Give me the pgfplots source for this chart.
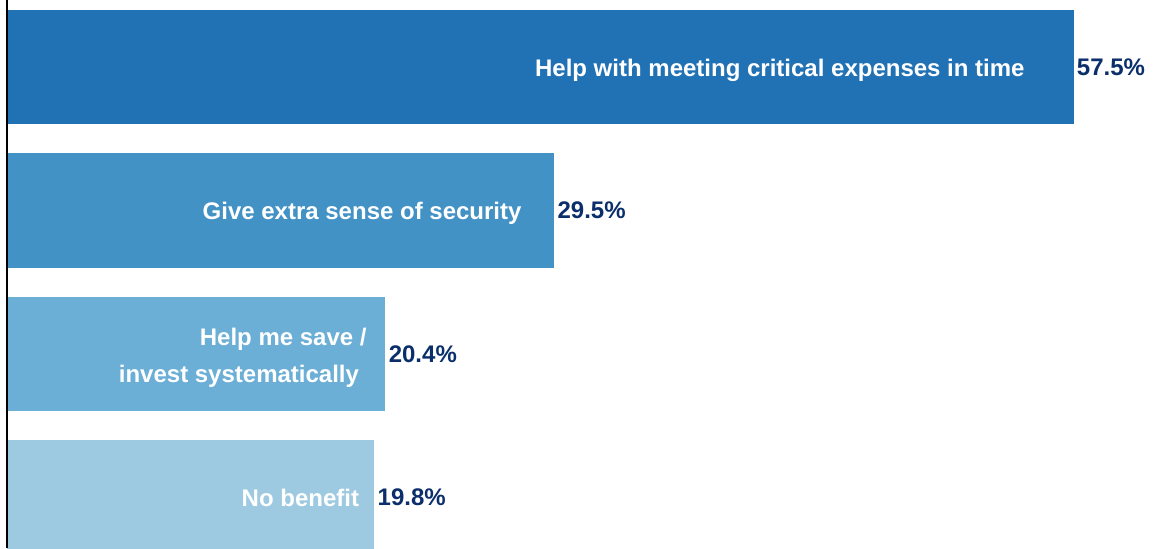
\documentclass[border=0pt]{standalone}
\usepackage{pgfplots}
\pgfplotsset{compat=1.18}
\usepackage{fontspec}
\setmainfont{Liberation Sans}
\definecolor{cA}{HTML}{2171B5}
\definecolor{cB}{HTML}{4292C6}
\definecolor{cC}{HTML}{6BAED6}
\definecolor{cD}{HTML}{9ECAE1}
\definecolor{navy}{HTML}{0B2F6B}
\begin{document}
\fontsize{12pt}{14.4pt}\selectfont\bfseries
\begin{tikzpicture}
\begin{axis}[
  width=577.5pt, height=274pt, scale only axis,
  xmin=-0.3774, xmax=61.89,
  ymin=-0.4669, ymax=3.352,
  y dir=reverse,
  axis lines=none,
  xbar, bar width=0.798, bar shift=0pt,
  point meta=x,
  /pgf/number format/assume math mode=true,
  nodes near coords={\pgfmathprintnumber[fixed,precision=1,fixed zerofill,assume math mode=true]{\pgfplotspointmeta}\%},
  every node near coord/.style={anchor=west, inner sep=0pt, xshift=1.5pt, text=navy, font=\fontsize{12pt}{14.4pt}\selectfont\bfseries},
]
\path (rel axis cs:0,0) rectangle (rel axis cs:1,1);
\addplot[fill=cA, draw=none] coordinates {(57.5,0)};
\addplot[fill=cB, draw=none] coordinates {(29.5,1)};
\addplot[fill=cC, draw=none] coordinates {(20.4,2)};
\addplot[fill=cD, draw=none] coordinates {(19.8,3)};
\draw[black, line width=1pt] (axis cs:0,-0.4669) -- (axis cs:0,3.352);
\begin{scope}[every node/.style={anchor=base east, inner sep=0pt, text=white, font=\fontsize{12pt}{14.4pt}\selectfont\bfseries}]
\node at (axis cs:54.88,0.0627) {Help with meeting critical expenses in time};
\node at (axis cs:27.76,1.0613) {Give extra sense of security};
\node at (axis cs:19.41,1.944) {Help me save /};
\node at (axis cs:19.00,2.202) {invest systematically};
\node at (axis cs:19.00,3.064) {No benefit};
\end{scope}
\end{axis}
\end{tikzpicture}
\end{document}
